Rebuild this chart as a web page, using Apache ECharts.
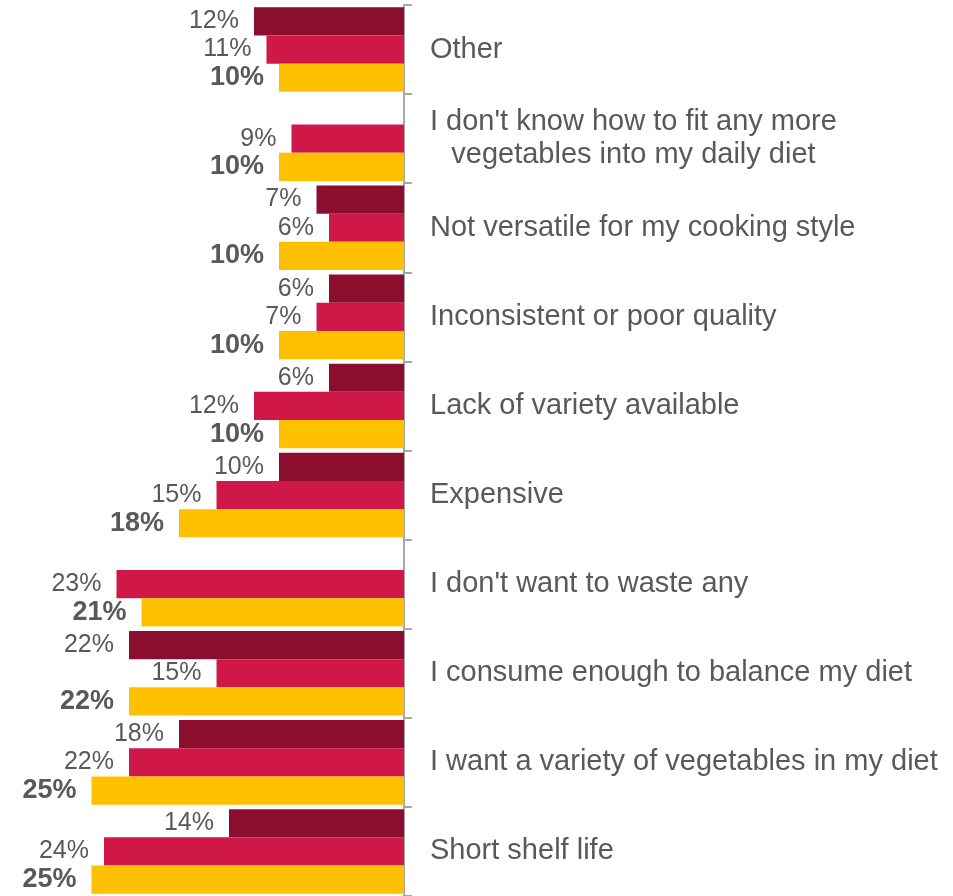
<!DOCTYPE html>
<html>
<head>
<meta charset="utf-8">
<script src="https://cdn.jsdelivr.net/npm/echarts@6/dist/echarts.min.js"></script>
<style>
  html, body { margin: 0; padding: 0; background: #ffffff; }
  #chart { width: 953px; height: 896px; }
</style>
</head>
<body>
<div id="chart"></div>
<script>
// Reasons given, top to bottom
const categories = [
  'Other',
  "I don't know how to fit any more\nvegetables into my daily diet",
  'Not versatile for my cooking style',
  'Inconsistent or poor quality',
  'Lack of variety available',
  'Expensive',
  "I don't want to waste any",
  'I consume enough to balance my diet',
  'I want a variety of vegetables in my diet',
  'Short shelf life'
];

// Percent shares per group (null = not asked)
const seriesDark   = [12, null, 7, 6, 6, 10, null, 22, 18, 14];
const seriesRed    = [11, 9, 6, 7, 12, 15, 23, 15, 22, 24];
const seriesYellow = [10, 10, 10, 10, 10, 18, 21, 22, 25, 25];

const labelGrey = '#595959';
const font = 'Liberation Sans, Arial, sans-serif';

function barSeries(name, data, color, bold) {
  return {
    name: name,
    type: 'bar',
    data: data,
    barCategoryGap: '5%',
    barGap: '0%',
    itemStyle: { color: color },
    label: {
      show: true,
      position: 'left',
      distance: 15,
      formatter: '{c}%',
      color: labelGrey,
      fontFamily: font,
      fontSize: bold ? 27 : 25,
      fontWeight: bold ? 'bold' : 'normal'
    },
    silent: true,
    animation: false
  };
}

const chart = echarts.init(document.getElementById('chart'), null, { renderer: 'canvas' });
chart.setOption({
  backgroundColor: '#ffffff',
  animation: false,
  grid: { left: 0, top: 5, width: 404, height: 893, containLabel: false },
  xAxis: {
    type: 'value',
    inverse: true,
    min: 0,
    max: 32.32,
    show: false
  },
  yAxis: {
    type: 'category',
    data: categories,
    inverse: true,
    position: 'right',
    axisLine: { show: true, lineStyle: { color: '#A6A6A6', width: 2 } },
    axisTick: { show: true, inside: false, length: 8, lineStyle: { color: '#A6A6A6', width: 2 } },
    axisLabel: {
      margin: 26,
      color: labelGrey,
      fontFamily: font,
      fontSize: 29,
      lineHeight: 33,
      align: 'left',
      formatter: function (v) {
        if (v.indexOf('\n') >= 0) {
          return v.split('\n').map(function (s) { return '{c|' + s + '}'; }).join('\n');
        }
        return v;
      },
      rich: {
        c: { align: 'center', color: labelGrey, fontFamily: font, fontSize: 29, lineHeight: 33 }
      }
    },
    splitLine: { show: false }
  },
  series: [
    barSeries('dark', seriesDark, '#8B0E2F', false),
    barSeries('red', seriesRed, '#CF1847', false),
    barSeries('yellow', seriesYellow, '#FFC000', true)
  ]
});
</script>
</body>
</html>
